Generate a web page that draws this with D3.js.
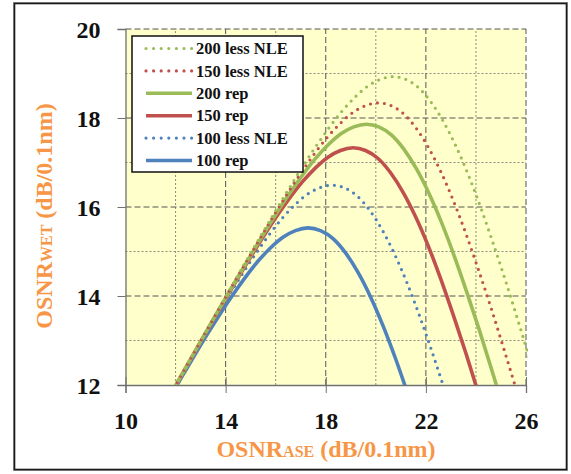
<!DOCTYPE html>
<html>
<head>
<meta charset="utf-8">
<script src="https://cdn.jsdelivr.net/npm/d3@7"></script>
<style>
  html, body { margin: 0; padding: 0; background: #fff; }
  svg { display: block; }
  svg text { font-family: "Liberation Serif", "Tinos", "DejaVu Serif Condensed", "DejaVu Serif", serif; font-weight: bold; }
</style>
</head>
<body>
<svg id="chart" width="571" height="474"></svg>
<script>
// ---- data ----
const seriesNames = ["200 less NLE", "150 less NLE", "200 rep", "150 rep", "100 less NLE", "100 rep"];
const seriesColors = ["#9BBB59", "#C0504D", "#9BBB59", "#C0504D", "#4F81BD", "#4F81BD"];
const seriesDotted = [true, true, false, false, true, false];

const nle200X = [11.69, 12.69, 13.69, 14.69, 15.69, 16.69, 17.69, 18.69, 19.19, 19.69, 20.19, 20.69, 21.19, 21.69, 22.19, 22.69, 23.19, 23.69, 24.19, 24.69, 25.19, 25.69, 26.19];
const nle200Y = [11.69, 12.68, 13.67, 14.66, 15.62, 16.56, 17.43, 18.18, 18.48, 18.72, 18.87, 18.93, 18.87, 18.69, 18.37, 17.93, 17.38, 16.73, 15.99, 15.18, 14.33, 13.43, 12.51];

const nle150X = [11.1, 12.1, 13.1, 14.1, 15.1, 16.1, 17.1, 18.1, 18.6, 19.1, 19.6, 20.1, 20.6, 21.1, 21.6, 22.1, 22.6, 23.1, 23.6, 24.1, 24.6, 25.1, 25.6];
const nle150Y = [11.10, 12.09, 13.08, 14.07, 15.03, 15.97, 16.84, 17.59, 17.89, 18.13, 18.28, 18.34, 18.28, 18.10, 17.78, 17.34, 16.79, 16.14, 15.40, 14.59, 13.74, 12.84, 11.92];

const rep200X = [10.62, 11.62, 12.62, 13.62, 14.62, 15.62, 16.62, 17.62, 18.12, 18.62, 19.12, 19.62, 20.12, 20.62, 21.12, 21.62, 22.12, 22.62, 23.12, 23.62, 24.12, 24.62, 25.12];
const rep200Y = [10.62, 11.61, 12.60, 13.59, 14.55, 15.49, 16.36, 17.11, 17.41, 17.65, 17.80, 17.86, 17.80, 17.62, 17.30, 16.86, 16.31, 15.66, 14.92, 14.11, 13.26, 12.36, 11.44];

const rep150X = [11.09, 12.09, 13.09, 14.09, 15.09, 16.09, 17.09, 17.59, 18.09, 18.59, 19.09, 19.59, 20.09, 20.59, 21.09, 21.59, 22.09, 22.59, 23.09, 23.59, 24.09];
const rep150Y = [11.08, 12.07, 13.06, 14.02, 14.96, 15.83, 16.58, 16.88, 17.12, 17.27, 17.33, 17.27, 17.09, 16.77, 16.33, 15.78, 15.13, 14.39, 13.58, 12.73, 11.83];

const nle100X = [11.25, 12.25, 13.25, 14.25, 15.25, 16.25, 16.75, 17.25, 17.75, 18.25, 18.75, 19.25, 19.75, 20.25, 20.75, 21.25, 21.75, 22.25, 22.75];
const nle100Y = [11.23, 12.22, 13.18, 14.12, 14.99, 15.74, 16.04, 16.28, 16.43, 16.49, 16.43, 16.25, 15.93, 15.49, 14.94, 14.29, 13.55, 12.74, 11.89];

const rep100X = [11.29, 12.29, 13.29, 14.29, 15.29, 15.79, 16.29, 16.79, 17.29, 17.79, 18.29, 18.79, 19.29, 19.79, 20.29, 20.79, 21.29];
const rep100Y = [11.26, 12.22, 13.16, 14.03, 14.78, 15.08, 15.32, 15.47, 15.53, 15.47, 15.29, 14.97, 14.53, 13.98, 13.33, 12.59, 11.78];

const seriesX = [nle200X, nle150X, rep200X, rep150X, nle100X, rep100X];
const seriesY = [nle200Y, nle150Y, rep200Y, rep150Y, nle100Y, rep100Y];

const xMajorTicks = [10, 14, 18, 22, 26];
const xMinorGrid = [12, 16, 20, 24];
const yMajorTicks = [12, 14, 16, 18, 20];
const yMinorGrid = [13, 15, 17, 19];

// ---- drawing ----
const svg = d3.select("#chart");
const W = 571, H = 474;
const titleColor = "#F79646";

svg.append("rect").attr("width", W).attr("height", H).attr("fill", "#fff");

// outer frame
svg.append("rect").attr("x", 13.5).attr("y", 2.5).attr("width", 554).attr("height", 468)
  .attr("fill", "none").attr("stroke", "#9a9a9a").attr("stroke-width", 1);
svg.append("rect").attr("x", 14.5).attr("y", 3.5).attr("width", 552).attr("height", 466)
  .attr("fill", "none").attr("stroke", "#1a1a1a").attr("stroke-width", 1.6);

const x = d3.scaleLinear().domain([10, 26]).range([125.5, 526]);
const y = d3.scaleLinear().domain([12, 20]).range([385, 29]);

// plot background
svg.append("rect")
  .attr("x", x(10)).attr("y", y(20))
  .attr("width", x(26) - x(10)).attr("height", y(12) - y(20))
  .attr("fill", "#FFFFCC");

// grid
const grid = svg.append("g");
grid.selectAll(".vminor").data(xMinorGrid).join("line")
  .attr("x1", d => x(d)).attr("x2", d => x(d)).attr("y1", y(12)).attr("y2", y(20))
  .attr("stroke", "#8c8c80").attr("stroke-width", 1).attr("stroke-dasharray", "2,2");
grid.selectAll(".hminor").data(yMinorGrid).join("line")
  .attr("x1", x(10)).attr("x2", x(26)).attr("y1", d => y(d)).attr("y2", d => y(d))
  .attr("stroke", "#8c8c80").attr("stroke-width", 1).attr("stroke-dasharray", "2,2");
grid.selectAll(".vmajor").data(xMajorTicks.filter(d => d > 10)).join("line")
  .attr("x1", d => x(d)).attr("x2", d => x(d)).attr("y1", y(12)).attr("y2", y(20))
  .attr("stroke", "#555").attr("stroke-width", 1).attr("stroke-dasharray", "6,3");
grid.selectAll(".hmajor").data(yMajorTicks.filter(d => d > 12)).join("line")
  .attr("x1", x(10)).attr("x2", x(26)).attr("y1", d => y(d)).attr("y2", d => y(d))
  .attr("stroke", "#555").attr("stroke-width", 1).attr("stroke-dasharray", "6,3");

// axes
const xAxis = d3.axisBottom(x).tickValues(xMajorTicks).tickSize(8).tickFormat(d3.format("d"));
const yAxis = d3.axisLeft(y).tickValues(yMajorTicks).tickSize(8).tickFormat(d3.format("d"));

const gx = svg.append("g").attr("transform", `translate(0,${y(12)})`).call(xAxis);
const gy = svg.append("g").attr("transform", `translate(${x(10)},0)`).call(yAxis);
[gx, gy].forEach(g => {
  g.attr("font-family", null).attr("font-size", null);
  g.select(".domain").attr("stroke", "#707070").attr("stroke-width", 1.3);
  g.selectAll(".tick line").attr("stroke", "#707070").attr("stroke-width", 1);
  g.selectAll(".tick text")
    .style("font-size", "24px")
    .attr("fill", "#111");
});
gx.selectAll(".tick line").attr("y1", -8).attr("y2", 8);
gx.selectAll(".tick text").attr("y", 44).attr("dy", 0);
gy.selectAll(".tick text").attr("x", -25).attr("dy", "0.34em");

// curves
const clipId = "plotclip";
svg.append("clipPath").attr("id", clipId).append("rect")
  .attr("x", x(10)).attr("y", y(20) - 2)
  .attr("width", x(26) - x(10) + 2).attr("height", y(12) - y(20) + 2);

const line = d3.line().x(d => x(d[0])).y(d => y(d[1])).curve(d3.curveMonotoneX);
const curves = svg.append("g").attr("clip-path", `url(#${clipId})`);
const order = [5, 4, 3, 2, 1, 0];
order.forEach(i => {
  const pts = seriesX[i].map((v, k) => [v, seriesY[i][k]]);
  const p = curves.append("path").datum(pts).attr("d", line)
    .attr("fill", "none").attr("stroke", seriesColors[i]);
  if (seriesDotted[i]) {
    p.attr("stroke-width", 3.2).attr("stroke-linecap", "round").attr("stroke-dasharray", "0,7");
  } else {
    p.attr("stroke-width", 3.6).attr("stroke-linecap", "butt");
  }
});

// legend
const lg = svg.append("g");
lg.append("rect").attr("x", 132).attr("y", 36).attr("width", 171).attr("height", 136)
  .attr("fill", "#fff").attr("stroke", "#111").attr("stroke-width", 1.5);
seriesNames.forEach((name, i) => {
  const yy = 48.5 + i * 22.4;
  const l = lg.append("line").attr("x1", 146).attr("x2", 192).attr("y1", yy).attr("y2", yy)
    .attr("stroke", seriesColors[i]);
  if (seriesDotted[i]) {
    l.attr("stroke-width", 3.2).attr("stroke-linecap", "round").attr("stroke-dasharray", "0,7.6");
  } else {
    l.attr("stroke-width", 3.6);
  }
  lg.append("text").attr("x", 196).attr("y", yy).attr("dy", "0.35em")
    .style("font-size", "16.5px")
    .attr("fill", "#111").text(name);
});

// axis titles
const xt = svg.append("text").attr("x", 326).attr("y", 457).attr("text-anchor", "middle")
  .attr("fill", titleColor);
xt.append("tspan").style("font-size", "24px").text("OSNR");
xt.append("tspan").style("font-size", "16px").text("ASE");
xt.append("tspan").style("font-size", "24px").text(" (dB/0.1nm)");

const yt = svg.append("text").attr("transform", "translate(52,216) rotate(-90)")
  .attr("text-anchor", "middle")
  .attr("fill", titleColor);
yt.append("tspan").style("font-size", "24px").text("OSNR");
yt.append("tspan").style("font-size", "16px").text("WET");
yt.append("tspan").style("font-size", "24px").text(" (dB/0.1nm)");
</script>
</body>
</html>
